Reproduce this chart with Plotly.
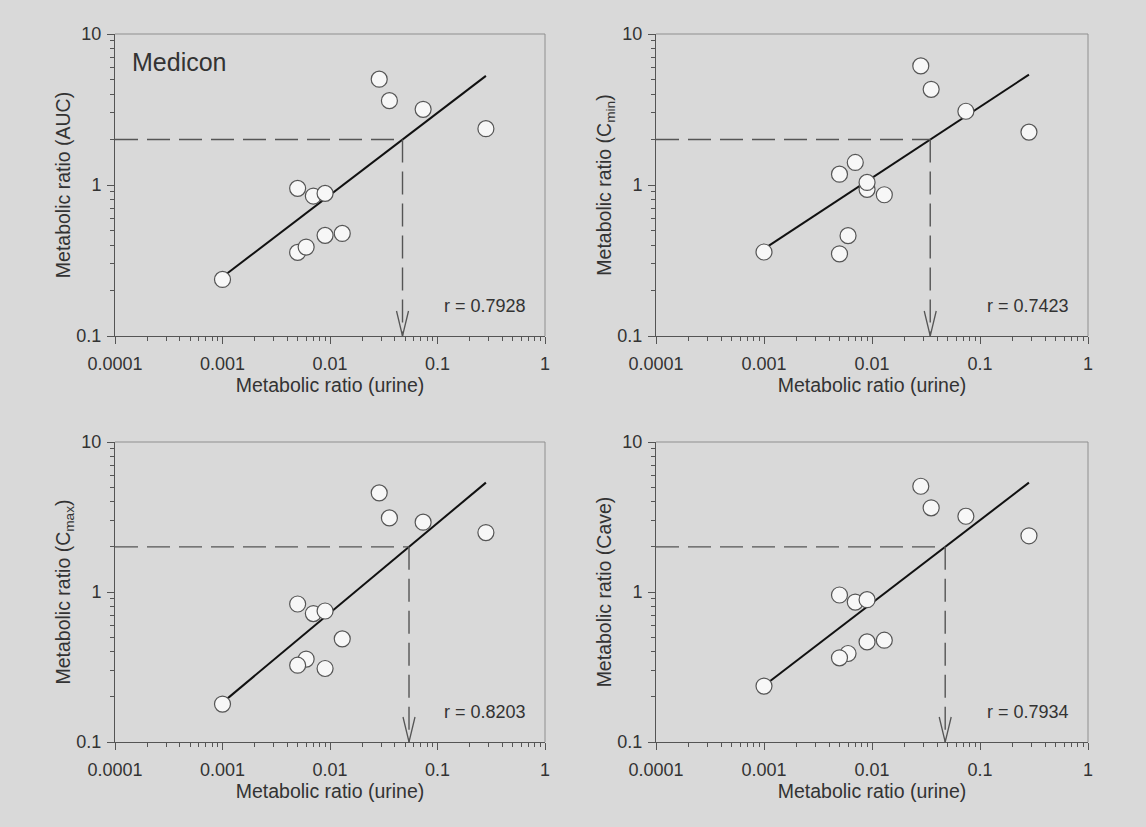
import numpy as np
import plotly.graph_objects as go

# ---------------- data ----------------
urine_ratio = [0.001, 0.005, 0.007, 0.009, 0.005, 0.006, 0.009, 0.013, 0.0287, 0.0357, 0.0735, 0.282]

auc_ratio = [0.237, 0.95, 0.845, 0.88, 0.358, 0.388, 0.464, 0.478, 5.02, 3.62, 3.17, 2.36]
cmin_x = [0.001, 0.005, 0.007, 0.009, 0.009, 0.013, 0.006, 0.005, 0.0283, 0.0353, 0.074, 0.284]
cmin_ratio = [0.36, 1.18, 1.41, 0.936, 1.04, 0.862, 0.462, 0.35, 6.15, 4.30, 3.08, 2.24]
cmax_x = [0.001, 0.005, 0.007, 0.009, 0.013, 0.006, 0.005, 0.009, 0.0287, 0.0357, 0.0735, 0.282]
cmax_ratio = [0.179, 0.832, 0.718, 0.747, 0.487, 0.357, 0.325, 0.309, 4.58, 3.12, 2.92, 2.49]
cave_x = [0.001, 0.005, 0.007, 0.009, 0.013, 0.009, 0.006, 0.005, 0.0283, 0.0353, 0.074, 0.284]
cave_ratio = [0.236, 0.955, 0.857, 0.889, 0.477, 0.465, 0.389, 0.364, 5.07, 3.64, 3.20, 2.37]

# regression lines: (x_start, y_start, x_end, y_end)
fit_auc = [0.001, 0.246, 0.282, 5.28]
fit_cmin = [0.001, 0.378, 0.284, 5.38]
fit_cmax = [0.001, 0.183, 0.282, 5.36]
fit_cave = [0.001, 0.237, 0.284, 5.36]

cutoff = 2.0
r_values = ["r = 0.7928", "r = 0.7423", "r = 0.8203", "r = 0.7934"]
y_titles = ["Metabolic ratio (AUC)",
            "Metabolic ratio (C<sub>min</sub>)",
            "Metabolic ratio (C<sub>max</sub>)",
            "Metabolic ratio (Cave)"]
x_title = "Metabolic ratio (urine)"
x_tickvals = [0.0001, 0.001, 0.01, 0.1, 1]
x_ticktext = ["0.0001", "0.001", "0.01", "0.1", "1"]
y_tickvals = [0.1, 1, 10]
y_ticktext = ["0.1", "1", "10"]

# ---------------- layout ----------------
W, H = 1146, 827
BG = "#d9d9d9"
AX = "#555555"
TXT = "#333333"
FONT = "Liberation Sans, Arial, sans-serif"

panels = [
    (urine_ratio, auc_ratio, fit_auc, (115, 545), (34, 336)),
    (cmin_x, cmin_ratio, fit_cmin, (656, 1088), (34, 336)),
    (cmax_x, cmax_ratio, fit_cmax, (115, 545), (442, 742)),
    (cave_x, cave_ratio, fit_cave, (656, 1088), (442, 742)),
]

fig = go.Figure()
minor_x = [m * 10 ** e for e in range(-4, 0) for m in range(2, 10)]
minor_y = [m * 10 ** e for e in range(-1, 1) for m in range(2, 10)]

tick_font = dict(family=FONT, size=18, color=TXT)
title_font = dict(family=FONT, size=19.5, color=TXT)

for i, (xs, ys, fit, (px0, px1), (py0, py1)) in enumerate(panels):
    n = i + 1
    xa = "x" if n == 1 else f"x{n}"
    ya = "y" if n == 1 else f"y{n}"
    xkey = "xaxis" if n == 1 else f"xaxis{n}"
    ykey = "yaxis" if n == 1 else f"yaxis{n}"

    # regression line
    fig.add_trace(go.Scatter(x=[fit[0], fit[2]], y=[fit[1], fit[3]], mode="lines",
                             line=dict(color="#111111", width=2), xaxis=xa, yaxis=ya,
                             showlegend=False, hoverinfo="skip"))
    # intersection of fit with cutoff (log space)
    lx0, ly0, lx1, ly1 = np.log10(fit[0]), np.log10(fit[1]), np.log10(fit[2]), np.log10(fit[3])
    slope = (ly1 - ly0) / (lx1 - lx0)
    xc = 10 ** (lx0 + (np.log10(cutoff) - ly0) / slope)
    dash = "23px,9px"
    fig.add_trace(go.Scatter(x=[1e-4, xc], y=[cutoff, cutoff], mode="lines",
                             line=dict(color=AX, width=1.4, dash=dash), xaxis=xa, yaxis=ya,
                             showlegend=False, hoverinfo="skip"))
    fig.add_trace(go.Scatter(x=[xc, xc], y=[cutoff, 0.1], mode="lines",
                             line=dict(color=AX, width=1.4, dash=dash), xaxis=xa, yaxis=ya,
                             showlegend=False, hoverinfo="skip", cliponaxis=False))
    # open V arrow head
    pxdec = (px1 - px0) / 4.0
    pydec = (py1 - py0) / 2.0
    dx = 6 / pxdec
    dy = 25 / pydec
    lxc = np.log10(xc)
    fig.add_trace(go.Scatter(x=[10 ** (lxc - dx), xc, 10 ** (lxc + dx)],
                             y=[10 ** (-1 + dy), 0.1, 10 ** (-1 + dy)], mode="lines",
                             line=dict(color=AX, width=1.3), xaxis=xa, yaxis=ya,
                             showlegend=False, hoverinfo="skip", cliponaxis=False))
    # points
    fig.add_trace(go.Scatter(x=xs, y=ys, mode="markers",
                             marker=dict(size=16, color="#f7f7f7",
                                         line=dict(color="#555555", width=1.2)),
                             xaxis=xa, yaxis=ya, showlegend=False))

    fig.layout[xkey] = dict(type="log", range=[-4, 0], domain=[px0 / W, px1 / W],
                            anchor=ya, showline=True, linecolor=AX, linewidth=1,
                            mirror=False, showgrid=False, zeroline=False, automargin=False,
                            tickmode="array", tickvals=x_tickvals, ticktext=x_ticktext,
                            ticks="outside", ticklen=7, tickwidth=1, tickcolor=AX,
                            ticklabelstandoff=4,
                            minor=dict(tickmode="array", tickvals=minor_x, ticks="outside",
                                       ticklen=4, tickwidth=1, tickcolor=AX, showgrid=False),
                            tickfont=tick_font,
                            title=dict(text=x_title, font=title_font, standoff=4))
    fig.layout[ykey] = dict(type="log", range=[-1, 1], domain=[1 - py1 / H, 1 - py0 / H],
                            anchor=xa, showline=True, linecolor=AX, linewidth=1,
                            mirror=False, showgrid=False, zeroline=False, automargin=False,
                            tickmode="array", tickvals=y_tickvals, ticktext=y_ticktext,
                            ticks="outside", ticklen=7, tickwidth=1, tickcolor=AX,
                            ticklabelstandoff=2,
                            minor=dict(tickmode="array", tickvals=minor_y, ticks="outside",
                                       ticklen=4, tickwidth=1, tickcolor=AX, showgrid=False),
                            tickfont=tick_font,
                            title=dict(text=y_titles[i], font=title_font, standoff=0))
    # light frame on top/right
    fig.add_shape(type="line", xref=f"{xa} domain", yref=f"{ya} domain",
                  x0=0, x1=1, y0=1, y1=1, line=dict(color="#8f8f8f", width=1))
    fig.add_shape(type="line", xref=f"{xa} domain", yref=f"{ya} domain",
                  x0=1, x1=1, y0=0, y1=1, line=dict(color="#8f8f8f", width=1))
    # r annotation
    fig.add_annotation(xref=f"{xa} domain", yref=f"{ya} domain", x=0.96, y=0.1,
                       text=r_values[i], showarrow=False, xanchor="right", yanchor="middle",
                       font=dict(family=FONT, size=18, color=TXT))

fig.add_annotation(xref="x domain", yref="y domain", x=0.035, y=0.907,
                   text="Medicon", showarrow=False, xanchor="left", yanchor="middle",
                   font=dict(family=FONT, size=25, color=TXT))

fig.update_layout(width=W, height=H, margin=dict(l=0, r=0, t=0, b=0, autoexpand=False),
                  paper_bgcolor=BG, plot_bgcolor=BG, showlegend=False)

fig.write_html("out.html", config={"displayModeBar": False},
               post_script="document.body.style.margin='0';")
